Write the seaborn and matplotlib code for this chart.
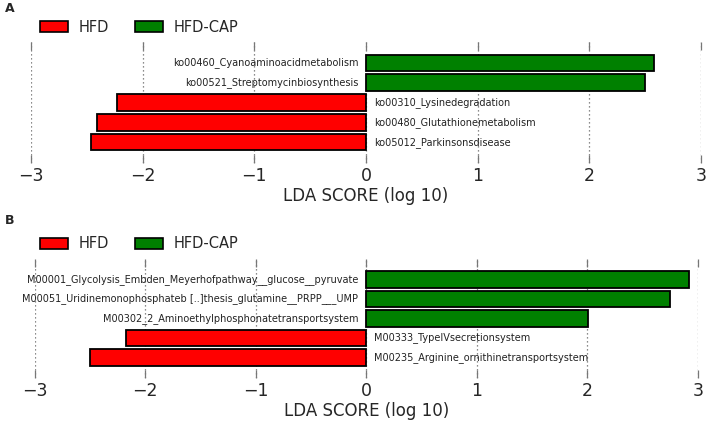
import matplotlib
matplotlib.use("Agg")
import matplotlib.pyplot as plt
from matplotlib.patches import Patch
import seaborn as sns
import pandas as pd

# ---- data ----
features_a = ["ko00460_Cyanoaminoacidmetabolism", "ko00521_Streptomycinbiosynthesis",
              "ko00310_Lysinedegradation", "ko00480_Glutathionemetabolism",
              "ko05012_Parkinsonsdisease"]
scores_a = [2.58, 2.50, -2.23, -2.41, -2.46]
groups_a = ["HFD-CAP", "HFD-CAP", "HFD", "HFD", "HFD"]

features_b = ["M00001_Glycolysis_Embden_Meyerhofpathway__glucose__pyruvate",
              "M00051_Uridinemonophosphateb [..]thesis_glutamine__PRPP___UMP",
              "M00302_2_Aminoethylphosphonatetransportsystem",
              "M00333_TypeIVsecretionsystem",
              "M00235_Arginine_ornithinetransportsystem"]
scores_b = [2.92, 2.75, 2.01, -2.17, -2.50]
groups_b = ["HFD-CAP", "HFD-CAP", "HFD-CAP", "HFD", "HFD"]

legend_labels = ["HFD", "HFD-CAP"]
colors = {"HFD": "#FF0000", "HFD-CAP": "#008000"}
xticks = [-3, -2, -1, 0, 1, 2, 3]
xlabel = "LDA SCORE (log 10)"
panel_labels = ["A", "B"]

sns.set_style("white")
plt.rcParams["font.family"] = ["DejaVu Sans"]

W, H = 708, 425
fig = plt.figure(figsize=(W / 100, H / 100), dpi=100)


def px_axes(left, right, top, bottom):
    return fig.add_axes([left / W, 1 - bottom / H, (right - left) / W, (bottom - top) / H])


def draw(ax, feats, scores, groups):
    df = pd.DataFrame({"feature": feats, "score": scores, "group": groups})
    sns.barplot(data=df, x="score", y="feature", hue="group", palette=colors,
                dodge=False, edgecolor="black", linewidth=1.3, width=0.83,
                legend=False, ax=ax, saturation=1)
    ax.set_xlim(-3, 3)
    ax.set_ylim(4 + 1.05, -1.05)
    ax.set_xticks(xticks)
    ax.set_xticklabels(["\u2212%d" % -t if t < 0 else "%d" % t for t in xticks], fontsize=12.5)
    ax.set_yticks([])
    ax.set_ylabel("")
    ax.set_xlabel(xlabel, fontsize=12, labelpad=1)
    for s in ax.spines.values():
        s.set_visible(False)
    ax.grid(False)
    for t in xticks:
        ax.axvline(t, color="#666666", linestyle=(0, (1, 2.2)), linewidth=0.9, zorder=0)
    ax.tick_params(axis="x", which="both", direction="in", top=True, bottom=True,
                   length=6, width=0.9, color="#777777", pad=3)
    for i, (f, s) in enumerate(zip(feats, scores)):
        if s > 0:
            ax.text(-0.07, i, f, ha="right", va="center", fontsize=7.0, color="#222222")
        else:
            ax.text(0.07, i, f, ha="left", va="center", fontsize=7.0, color="#222222")


ax_a = px_axes(31, 701, 42, 163)
draw(ax_a, features_a, scores_a, groups_a)
ax_b = px_axes(34.7, 697.7, 259, 378)
draw(ax_b, features_b, scores_b, groups_b)

handles = [Patch(facecolor=colors[g], edgecolor="black", linewidth=1.2) for g in legend_labels]
for ycen in [27, 244]:
    fig.legend(handles, legend_labels, loc="center left",
               bbox_to_anchor=(40 / W, 1 - ycen / H), ncol=2, frameon=False,
               fontsize=10.5, handlelength=1.9, handleheight=0.75, columnspacing=1.8,
               handletextpad=0.75, borderpad=0, borderaxespad=0)

fig.text(5 / W, 1 - 9 / H, panel_labels[0], fontsize=9, fontweight="bold", va="center")
fig.text(5 / W, 1 - 220 / H, panel_labels[1], fontsize=9, fontweight="bold", va="center")

fig.savefig("out.png", dpi=100)
